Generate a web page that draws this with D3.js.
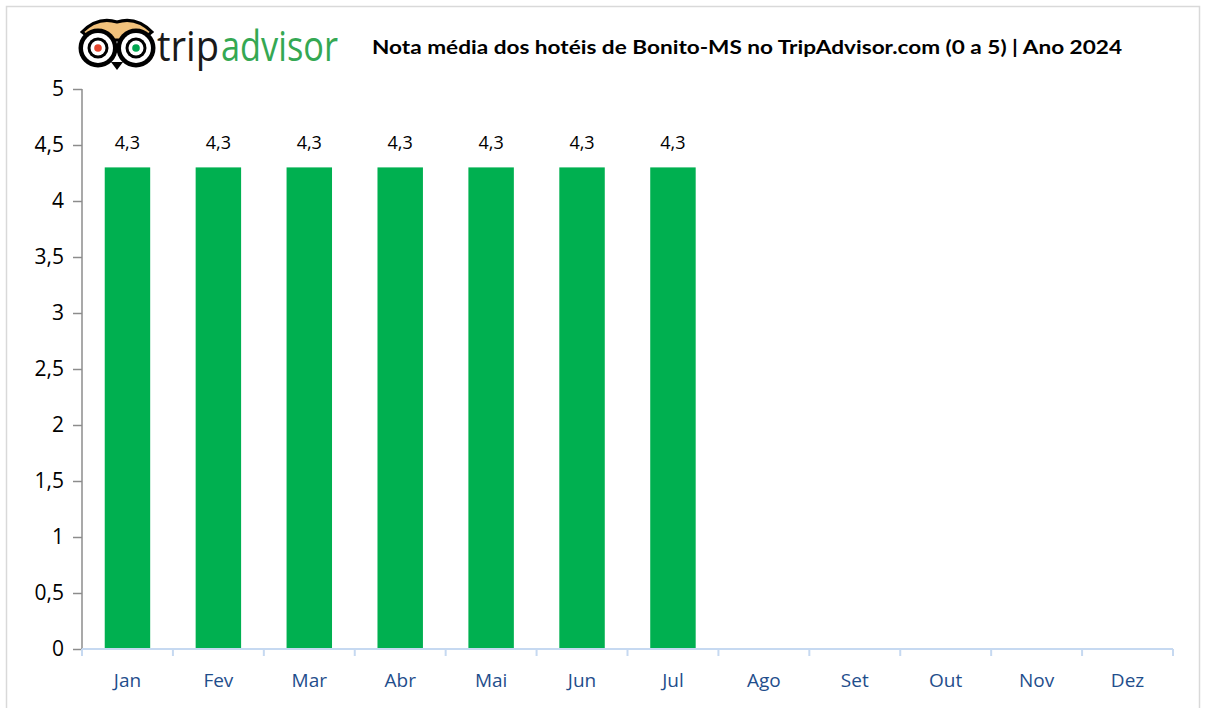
<!DOCTYPE html>
<html><head><meta charset="utf-8">
<script src="https://cdn.jsdelivr.net/npm/d3@7"></script>
<style>body{margin:0;background:#fff}svg{display:block}</style>
</head><body>
<svg id="c" width="1206" height="708"></svg>
<script>
const months = ["Jan","Fev","Mar","Abr","Mai","Jun","Jul","Ago","Set","Out","Nov","Dez"];
const ratings = [4.3,4.3,4.3,4.3,4.3,4.3,4.3,null,null,null,null,null];
const yTicks = [0,0.5,1,1.5,2,2.5,3,3.5,4,4.5,5];
const title = "Nota média dos hotéis de Bonito-MS no TripAdvisor.com (0 a 5) | Ano 2024";

const svg = d3.select("#c");
const fmt = v => String(v).replace(".", ",");
// frame
svg.append("rect").attr("x",6.5).attr("y",6.5).attr("width",1193).attr("height",710)
  .attr("fill","none").attr("stroke","#d9d9d9").attr("stroke-width",1.5);

const x = d3.scaleBand().domain(months).range([82,1173]).paddingInner(0.5).paddingOuter(0.25);
const y = d3.scaleLinear().domain([0,5]).range([649,89]);

// bars
const data = months.map((m,i)=>({m, v: ratings[i]})).filter(d=>d.v!=null);
svg.append("g").selectAll("rect").data(data).join("rect")
  .attr("x", d=>x(d.m)).attr("width", x.bandwidth())
  .attr("y", d=>y(d.v)).attr("height", d=>y(0)-y(d.v))
  .attr("fill","#00b050");
svg.append("g").selectAll("text").data(data).join("text")
  .attr("x", d=>x(d.m)+x.bandwidth()/2).attr("y", d=>y(d.v)-18)
  .attr("text-anchor","middle").attr("font-family","Open Sans, sans-serif")
  .attr("font-size",18).attr("fill","#000").text(d=>fmt(d.v));

// y axis
const ya = svg.append("g").attr("transform","translate(82,0)")
  .call(d3.axisLeft(y).tickValues(yTicks).tickFormat(fmt).tickSize(9).tickPadding(9));
ya.selectAll("path,line").attr("stroke","#8c8c8c").attr("stroke-width",1.5);
ya.select(".domain").attr("d","M0,89V649");
ya.selectAll("text").attr("font-family","Open Sans, sans-serif").attr("font-size",21).attr("fill","#000");

// x axis
const xa = svg.append("g").attr("transform","translate(0,649)");
xa.append("line").attr("x1",82).attr("x2",1173).attr("stroke","#c6d9f1").attr("stroke-width",2);
xa.selectAll("line.t").data(d3.range(13)).join("line").attr("class","t")
  .attr("x1",i=>82+i*(1091/12)).attr("x2",i=>82+i*(1091/12)).attr("y1",0).attr("y2",7)
  .attr("stroke","#c6d9f1").attr("stroke-width",2);
xa.selectAll("text").data(months).join("text")
  .attr("x", d=>x(d)+x.bandwidth()/2).attr("y",38)
  .attr("text-anchor","middle").attr("font-family","Open Sans, sans-serif")
  .attr("font-size",19).attr("fill","#1f4e8c").text(d=>d);

// title
svg.append("text").attr("x",372).attr("y",54).attr("font-family","Lato, sans-serif")
  .attr("font-weight","bold").attr("font-size",19).attr("textLength",750)
  .attr("lengthAdjust","spacingAndGlyphs").attr("fill","#000").text(title);

// logo
const lg = svg.append("g");
lg.append("path").attr("d","M82,32 Q98,16 117,22 Q136,16 152,32 L142,40 L92,40 Z").attr("fill","#f2c27c").attr("stroke","#000").attr("stroke-width",3);
[[98,"#e4442c"],[136,"#00a650"]].forEach(([cx,col])=>{
  lg.append("circle").attr("cx",cx).attr("cy",48).attr("r",19.5).attr("fill","#000");
  lg.append("circle").attr("cx",cx).attr("cy",48).attr("r",15).attr("fill","#fff");
  lg.append("circle").attr("cx",cx).attr("cy",48).attr("r",10.5).attr("fill","#000");
  lg.append("circle").attr("cx",cx).attr("cy",48).attr("r",7.5).attr("fill","#fff");
  lg.append("circle").attr("cx",cx).attr("cy",48).attr("r",3.8).attr("fill",col);
});
lg.append("path").attr("d","M111,62 L117,70 L123,62").attr("fill","#000");
lg.append("text").attr("x",157).attr("y",61).attr("font-family","Open Sans, sans-serif")
  .attr("font-size",42).attr("textLength",62).attr("lengthAdjust","spacingAndGlyphs")
  .attr("fill","#1a1a1a").text("trip");
lg.append("text").attr("x",221).attr("y",61).attr("font-family","Open Sans, sans-serif")
  .attr("font-size",42).attr("textLength",117).attr("lengthAdjust","spacingAndGlyphs")
  .attr("fill","#34a853").text("advisor");
</script>
</body></html>
